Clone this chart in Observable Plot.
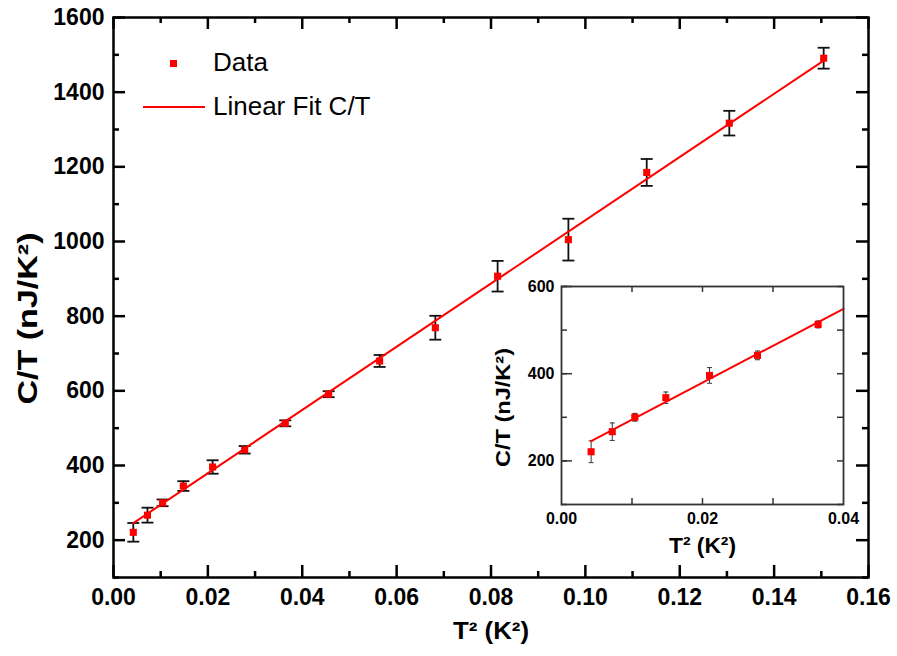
<!DOCTYPE html>
<html>
<head>
<meta charset="utf-8">
<script src="https://cdn.jsdelivr.net/npm/d3@7"></script>
<script src="https://cdn.jsdelivr.net/npm/@observablehq/plot@0.6"></script>
<style>
  html, body { margin: 0; padding: 0; background: white; }
  #wrap { position: relative; width: 897px; height: 656px; font-family: "Liberation Sans", Arial, sans-serif; }
  #wrap svg { position: absolute; left: 0; top: 0; }
  .legend { position: absolute; font-family: "Liberation Sans", Arial, sans-serif; font-size: 26px; color: #000; line-height: 1; white-space: nowrap; }
  .sq { position: absolute; width: 7px; height: 7px; background: #ff0000; }
  .ln { position: absolute; height: 2px; background: #ff0000; }
</style>
</head>
<body>
<div id="wrap"></div>
<script>
// ---- data ----
const T2  = [0.0042, 0.0072, 0.0104, 0.0148, 0.0210, 0.0278, 0.0364, 0.0456, 0.0564, 0.0682, 0.0814, 0.0964, 0.1130, 0.1305, 0.1505];
const CT  = [221, 267, 300, 345, 396, 442, 513, 591, 680, 769, 907, 1005, 1185, 1317, 1491];
const ERR = [25, 20, 9, 13, 18, 10, 8, 8, 16, 32, 41, 56, 36, 33, 28];
const insetCount = 7;

// linear fit C/T = a + b*T^2
const fitIntercept = 210;
const fitSlope = 8469;
const fitRangeMain = [0.0042, 0.1505];
const fitRangeInset = [0.0042, 0.04];

// ticks & labels
const mainXMajor = [0, 0.02, 0.04, 0.06, 0.08, 0.10, 0.12, 0.14, 0.16];
const mainXMinor = [0.01, 0.03, 0.05, 0.07, 0.09, 0.11, 0.13, 0.15];
const mainYMajor = [200, 400, 600, 800, 1000, 1200, 1400, 1600];
const mainYMinor = [100, 300, 500, 700, 900, 1100, 1300, 1500];
const insetXMajor = [0, 0.02, 0.04];
const insetXMinor = [0.01, 0.03];
const insetYMajor = [200, 400, 600];
const insetYMinor = [100, 300, 500];
const xTitle = "T² (K²)";
const yTitle = "C/T (nJ/K²)";
const legendLabels = ["Data", "Linear Fit C/T"];

const data = T2.map((x, i) => ({x, y: CT[i], lo: CT[i] - ERR[i], hi: CT[i] + ERR[i]}));
const insetData = data.slice(0, insetCount);
const fitLine = r => r.map(x => ({x, y: fitIntercept + fitSlope * x}));

const FONT = "Liberation Sans, Arial, sans-serif";
const capSymbol = { draw(ctx, size) { const w = Math.sqrt(size / Math.PI); ctx.moveTo(-w, 0); ctx.lineTo(w, 0); } };

function ticksMarks(xMaj, xMin, yMaj, yMin, H, W, major, minor, sw, color) {
  const tx = (vals, len) => [
    Plot.ruleX(vals, {x: d => d, insetTop: H - len, stroke: color, strokeWidth: sw}),
    Plot.ruleX(vals, {x: d => d, insetBottom: H - len, stroke: color, strokeWidth: sw})
  ];
  const ty = (vals, len) => [
    Plot.ruleY(vals, {y: d => d, insetRight: W - len, stroke: color, strokeWidth: sw}),
    Plot.ruleY(vals, {y: d => d, insetLeft: W - len, stroke: color, strokeWidth: sw})
  ];
  return [...tx(xMaj, major), ...tx(xMin, minor), ...ty(yMaj, major), ...ty(yMin, minor)];
}

// ---- main chart ----
const M = {left: 113, right: 29, top: 17, bottom: 79};
const W0 = 897, H0 = 656;
const iw = W0 - M.left - M.right, ih = H0 - M.top - M.bottom;

const main = Plot.plot({
  width: W0, height: H0,
  marginLeft: M.left, marginRight: M.right, marginTop: M.top, marginBottom: M.bottom,
  style: {background: "transparent", fontFamily: FONT},
  x: {domain: [0, 0.16]},
  y: {domain: [100, 1600]},
  marks: [
    Plot.axisX({ticks: mainXMajor, tickFormat: d => d.toFixed(2), tickSize: 0, tickPadding: 11, fontSize: 23, fontWeight: "bold", fill: "#000", label: null}),
    Plot.axisY({ticks: mainYMajor, tickFormat: d => String(d), tickSize: 0, tickPadding: 9, fontSize: 23, fontWeight: "bold", fill: "#000", label: null}),
    ...ticksMarks(mainXMajor, mainXMinor, mainYMajor, mainYMinor, ih, iw, 12, 6, 2.5, "#000"),
    Plot.ruleX(data, {x: "x", y1: "lo", y2: "hi", stroke: "#111", strokeWidth: 1.8}),
    Plot.dot(data, {x: "x", y: "lo", symbol: capSymbol, r: 6, stroke: "#111", strokeWidth: 1.8, fill: "none"}),
    Plot.dot(data, {x: "x", y: "hi", symbol: capSymbol, r: 6, stroke: "#111", strokeWidth: 1.8, fill: "none"}),
    Plot.line(fitLine(fitRangeMain), {x: "x", y: "y", stroke: "#ff0000", strokeWidth: 2}),
    Plot.dot(data, {x: "x", y: "y", symbol: "square", r: 4, fill: "#ff0000", stroke: "none"}),
    Plot.frame({stroke: "#000", strokeWidth: 2.5}),
    Plot.text([xTitle], {frameAnchor: "bottom", dy: 61, textAnchor: "middle", fontSize: 24, fontWeight: "bold", fill: "#000"}),
    Plot.text([yTitle], {frameAnchor: "left", rotate: -90, textAnchor: "middle", dx: -85, dy: 21, fontSize: 28, fontWeight: "bold", fill: "#000"})
  ]
});

// ---- inset ----
const N = {left: 561, right: 54, top: 286, bottom: 152};
const iw2 = W0 - N.left - N.right, ih2 = H0 - N.top - N.bottom;
const inset = Plot.plot({
  width: W0, height: H0,
  marginLeft: N.left, marginRight: N.right, marginTop: N.top, marginBottom: N.bottom,
  style: {background: "transparent", fontFamily: FONT},
  x: {domain: [0, 0.04]},
  y: {domain: [100, 600]},
  marks: [
    Plot.frame({fill: "white", stroke: "none"}),
    Plot.axisX({ticks: insetXMajor, tickFormat: d => d.toFixed(2), tickSize: 0, tickPadding: 8, fontSize: 16, fontWeight: "bold", fill: "#000", label: null}),
    Plot.axisY({ticks: insetYMajor, tickFormat: d => String(d), tickSize: 0, tickPadding: 7, fontSize: 16, fontWeight: "bold", fill: "#000", label: null}),
    ...ticksMarks(insetXMajor.filter(d => d > 0 && d < 0.04), insetXMinor, insetYMajor, insetYMinor, ih2, iw2, 6, 6, 1.5, "#333"),
    Plot.ruleY(insetYMajor, {y: d => d, insetRight: iw2 - 11, stroke: "#333", strokeWidth: 1.5}),
    Plot.ruleX(insetData, {x: "x", y1: "lo", y2: "hi", stroke: "#333", strokeWidth: 1}),
    Plot.dot(insetData, {x: "x", y: "lo", symbol: capSymbol, r: 2.5, stroke: "#333", strokeWidth: 1, fill: "none"}),
    Plot.dot(insetData, {x: "x", y: "hi", symbol: capSymbol, r: 2.5, stroke: "#333", strokeWidth: 1, fill: "none"}),
    Plot.line(fitLine(fitRangeInset), {x: "x", y: "y", stroke: "#ff0000", strokeWidth: 2}),
    Plot.dot(insetData, {x: "x", y: "y", symbol: "square", r: 4, fill: "#ff0000", stroke: "none"}),
    Plot.frame({stroke: "#333", strokeWidth: 1.8}),
    Plot.text([xTitle], {frameAnchor: "bottom", dy: 48, textAnchor: "middle", fontSize: 22, fontWeight: "bold", fill: "#000"}),
    Plot.text([yTitle], {frameAnchor: "left", rotate: -90, textAnchor: "middle", dx: -58, dy: 12, fontSize: 21, fontWeight: "bold", fill: "#000"})
  ]
});

// stretch titles to the widths seen in the reference
function stretch(svg, txt, len) {
  d3.select(svg).selectAll("text").filter(function() { return this.textContent === txt; })
    .attr("textLength", len).attr("lengthAdjust", "spacingAndGlyphs");
}
stretch(main, yTitle, 172);
stretch(main, xTitle, 76);
stretch(inset, yTitle, 119);
stretch(inset, xTitle, 67);

const wrap = document.getElementById("wrap");
wrap.appendChild(main);
wrap.appendChild(inset);

// ---- legend (HTML, placed over the main plot area) ----
const sq = document.createElement("div"); sq.className = "sq"; sq.style.left = "170px"; sq.style.top = "60px"; wrap.appendChild(sq);
const ln = document.createElement("div"); ln.className = "ln"; ln.style.left = "143px"; ln.style.top = "106px"; ln.style.width = "62px"; wrap.appendChild(ln);
const l1 = document.createElement("div"); l1.className = "legend"; l1.textContent = legendLabels[0]; l1.style.left = "213px"; l1.style.top = "49px"; wrap.appendChild(l1);
const l2 = document.createElement("div"); l2.className = "legend"; l2.textContent = legendLabels[1]; l2.style.left = "213px"; l2.style.top = "93px"; wrap.appendChild(l2);
</script>
</body>
</html>
